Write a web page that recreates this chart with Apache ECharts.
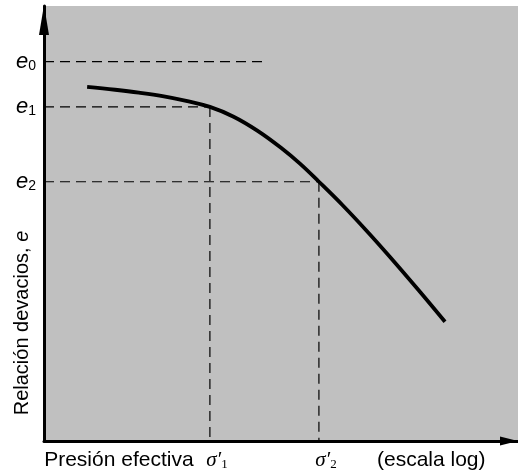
<!DOCTYPE html>
<html><head><meta charset="utf-8">
<script src="https://cdn.jsdelivr.net/npm/echarts@6/dist/echarts.min.js"></script>
<style>html,body{margin:0;padding:0;background:#fff}#c{width:518px;height:473px}</style>
</head><body><div id="c"></div>
<script>
// log effective pressure (arbitrary units) and void ratio e
const curveX = [0.91, 1.5, 2.0, 2.5, 3.0, 3.5, 4.0, 4.5, 5.0, 5.4, 5.8, 6.3, 6.8, 7.3, 7.9, 8.46];
const curveE = [0.814, 0.8075, 0.801, 0.793, 0.782, 0.768, 0.7455, 0.7135, 0.674, 0.6375, 0.596, 0.542, 0.484, 0.423, 0.347, 0.274];
const eLevels = [0.872, 0.768, 0.596];     // e0, e1, e2
const eNames = ['0', '1', '2'];
const sigmaX = [3.50, 5.80];               // sigma'1, sigma'2
const e0LineEnd = 4.62;
const xLabelTexts = ['Presión efectiva', 'σ1', 'σ2', '(escala log)'];
const xLabelPos = [1.58, 3.50, 5.80, 8.17];
const yTitle = 'Relación devacios, ';

const chart = echarts.init(document.getElementById('c'));
const FONT = 'Liberation Sans';

const dashed = { color: '#000', width: 1.2, type: [10, 6] };
const series = [];
// horizontal dashed guides
eLevels.forEach((lv, i) => {
  const endX = i === 0 ? e0LineEnd : sigmaX[i - 1];
  series.push({ type: 'line', data: [[0, lv], [endX, lv]], symbol: 'none', lineStyle: dashed, silent: true, z: 2 });
});
// vertical dashed guides
sigmaX.forEach((sx, i) => {
  series.push({ type: 'line', data: [[sx, eLevels[i + 1]], [sx, 0]], symbol: 'none', lineStyle: dashed, silent: true, z: 2 });
});
series.push({
  type: 'line', smooth: 0.4, symbol: 'none',
  data: curveX.map((x, i) => [x, curveE[i]]),
  lineStyle: { color: '#000', width: 3.8 }, z: 3
});

chart.setOption({
  animation: false,
  backgroundColor: '#fff',
  grid: { left: 44, right: 0, top: 6, bottom: 32, show: true, backgroundColor: '#c0c0c0', borderWidth: 0 },
  xAxis: {
    type: 'value', min: 0, max: 10,
    splitLine: { show: false },
    axisTick: { show: false },
    axisLine: { show: true, onZero: false, lineStyle: { color: '#000', width: 3 },
      symbol: ['none', 'triangle'], symbolSize: [9, 18], symbolOffset: [0, -9] },
    axisLabel: {
      customValues: xLabelPos, margin: 9, color: '#000',
      formatter: function (v) {
        const i = xLabelPos.indexOf(v);
        if (i < 0) return '';
        const t = xLabelTexts[i];
        if (t.charAt(0) === 'σ') return '{pad|}{s|σ′}{sub|' + t.charAt(1) + '}';
        return '{t|' + t + '}';
      },
      rich: {
        t: { fontFamily: FONT, fontSize: 21, color: '#000' },
        pad: { width: 14 },
        s: { fontFamily: 'Liberation Serif', fontStyle: 'italic', fontSize: 21, color: '#000' },
        sub: { fontFamily: 'Liberation Serif', fontSize: 13, color: '#000', verticalAlign: 'bottom', padding: [8, 0, 0, 0] }
      }
    }
  },
  yAxis: {
    type: 'value', min: 0, max: 1,
    splitLine: { show: false },
    axisTick: { show: false },
    axisLine: { show: true, onZero: false, lineStyle: { color: '#000', width: 3 },
      symbol: ['none', 'triangle'], symbolSize: [10, 30], symbolOffset: [0, -14] },
    axisLabel: {
      customValues: eLevels, margin: 8, color: '#000',
      formatter: function (v) {
        const i = eLevels.indexOf(v);
        if (i < 0) return '';
        return '{e|e}{sub|' + eNames[i] + '}';
      },
      rich: {
        e: { fontFamily: FONT, fontStyle: 'italic', fontSize: 22, color: '#000' },
        sub: { fontFamily: FONT, fontSize: 14, color: '#000', verticalAlign: 'bottom', padding: [6, 0, 0, 0] }
      }
    }
  },
  graphic: [{
    type: 'text', x: 22, y: 323, rotation: Math.PI / 2,
    style: {
      text: '{n|' + yTitle + '}{i|e}', align: 'center', verticalAlign: 'middle',
      rich: {
        n: { fontFamily: FONT, fontSize: 20, fill: '#000' },
        i: { fontFamily: FONT, fontStyle: 'italic', fontSize: 20, fill: '#000' }
      }
    }
  }],
  series: series
});
</script>
</body></html>
